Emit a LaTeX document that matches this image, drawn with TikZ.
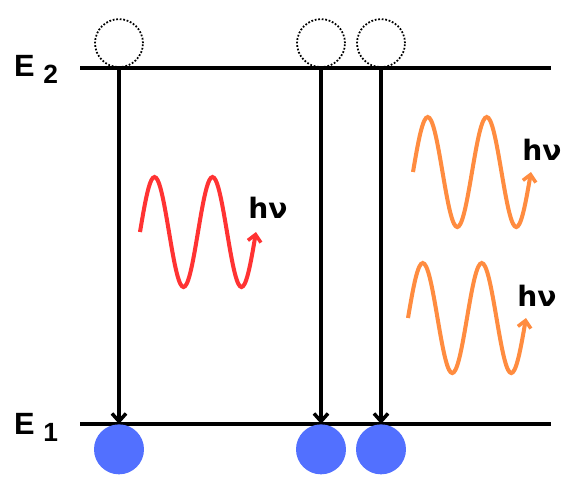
\documentclass[tikz,border=0pt]{standalone}
\usepackage{fontspec}
\setmainfont{Liberation Sans}
\newfontfamily\photonfont{DejaVu Sans}
\usepackage{tikz}
\usetikzlibrary{positioning,arrows.meta,calc}
\usepackage{xcolor}
\definecolor{atomblue}{RGB}{82,112,255}
\definecolor{photonred}{RGB}{255,51,51}
\definecolor{photonorange}{RGB}{255,140,64}

\begin{document}
\begin{tikzpicture}[
  x=0.02cm, y=-0.02cm,
  level/.style={line width=2pt},
  empty/.style={circle, draw, densely dotted, line width=1pt, minimum size=0.96cm, inner sep=0pt},
  atom/.style={circle, fill=atomblue, minimum size=1cm, inner sep=0pt},
  decay/.style={line width=2pt, -{Straight Barb[length=4.5pt, width=8pt, line width=2pt]}},
  photon/.style={line width=2.3pt, -{Straight Barb[length=4pt, width=7.5pt, line width=2pt]}},
  hv/.style={font=\photonfont\bfseries\fontsize{16}{16}\selectfont},
  elabel/.style={font=\bfseries\fontsize{17.5}{17.5}\selectfont}
]
  \useasboundingbox (0,0) rectangle (576,485);

  % Energy levels
  \coordinate (e2l) at (80,68);
  \coordinate (e2r) at (551,68);
  \coordinate (e1l) at (80,424);
  \coordinate (e1r) at (551,424);
  \draw[level] (e2l) -- (e2r);
  \draw[level] (e1l) -- (e1r);
  \node[elabel] (lab2) at (36,69) {E\hspace{5pt}\raisebox{-4pt}{\fontsize{15}{15}\selectfont 2}};
  \node[elabel] (lab1) at (36,427) {E\hspace{5pt}\raisebox{-4pt}{\fontsize{15}{15}\selectfont 1}};

  % Empty upper states
  \node[empty, anchor=south] (up1) at (119,68) {};
  \node[empty, anchor=south] (up2) at (321,68) {};
  \node[empty, anchor=south] (up3) at (381,68) {};

  % Filled lower states
  \node[atom, anchor=north] (low1) at (119,424) {};
  \node[atom, anchor=north] (low2) at (321,424) {};
  \node[atom, anchor=north] (low3) at (381,424) {};

  % Transitions
  \draw[decay] (up1.south) -- (low1.north);
  \draw[decay] (up2.south) -- (low2.north);
  \draw[decay] (up3.south) -- (low3.north);

  % Spontaneous photon
  \draw[photon, photonred] plot[smooth, domain=0:720, samples=73]
    ({140+\x/360*58}, {232-55*sin(\x)});
  \node[hv] (hv1) at (268,208) {hν};

  % Stimulated photons
  \draw[photon, photonorange] plot[smooth, domain=0:720, samples=73]
    ({413+\x/360*59}, {172-55*sin(\x)});
  \node[hv] (hv2) at (542,150) {hν};
  \draw[photon, photonorange] plot[smooth, domain=0:720, samples=73]
    ({408+\x/360*59}, {318-55*sin(\x)});
  \node[hv] (hv3) at (537,296) {hν};
\end{tikzpicture}
\end{document}
